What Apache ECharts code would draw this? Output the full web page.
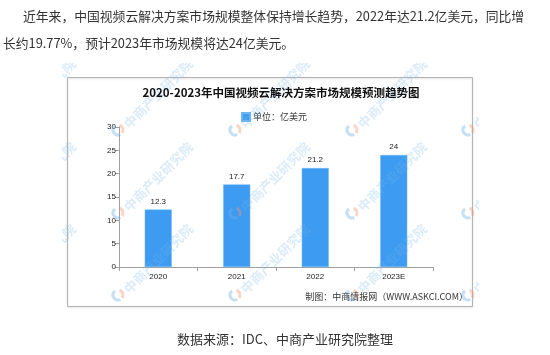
<!DOCTYPE html>
<html>
<head>
<meta charset="utf-8">
<script src="https://cdn.jsdelivr.net/npm/echarts@6/dist/echarts.min.js"></script>
<style>html,body{margin:0;padding:0;background:#fff}#c{width:550px;height:355px}</style>
</head>
<body>
<div id="c"></div>
<script>
var categories = ['2020', '2021', '2022', '2023E'];
var values = [12.3, 17.7, 21.2, 24];
var yTicks = [0, 5, 10, 15, 20, 25, 30];
var titleText = '2020-2023年中国视频云解决方案市场规模预测趋势图';
var legendName = '单位：亿美元';
var paraLine1 = '近年来，中国视频云解决方案市场规模整体保持增长趋势，2022年达21.2亿美元，同比增';
var paraLine2 = '长约19.77%，预计2023年市场规模将达24亿美元。';
var sourceText = '数据来源：IDC、中商产业研究院整理';
var creditText = '制图：中商情报网（WWW.ASKCI.COM）';
var wmText = '中商产业研究院';

var font = '"Noto Sans CJK SC", "Liberation Sans", sans-serif';
var numFont = '"Liberation Sans", "DejaVu Sans", sans-serif';

var chart = echarts.init(document.getElementById('c'), null, {renderer: 'canvas'});

var graphics = [];
// frame
graphics.push({type: 'rect', z: 1, shape: {x: 67.5, y: 77.5, width: 405, height: 229}, style: {fill: 'none', stroke: '#b4b4b4', lineWidth: 1, shadowBlur: 2, shadowColor: 'rgba(0,0,0,0.15)', shadowOffsetY: 1}});
// watermarks
var cols = [1, 118, 235, 352, 468];
var rows = [130, 213, 295];
rows.forEach(function (ry) {
  cols.forEach(function (cx) {
    graphics.push({type: 'arc', z: 100, silent: true, shape: {cx: cx, cy: ry, r: 5, startAngle: Math.PI * 0.35, endAngle: Math.PI * 1.3}, style: {stroke: 'rgba(110,175,230,0.4)', lineWidth: 3, fill: 'none'}});
    graphics.push({type: 'arc', z: 100, silent: true, shape: {cx: cx, cy: ry, r: 5, startAngle: Math.PI * 1.6, endAngle: Math.PI * 2.2}, style: {stroke: 'rgba(240,150,110,0.4)', lineWidth: 3, fill: 'none'}});
    graphics.push({type: 'text', z: 100, silent: true, x: cx + 8, y: ry - 4, rotation: Math.PI / 4,
      style: {text: wmText, font: 'bold 13px ' + font, fill: 'rgba(120,180,232,0.27)', textAlign: 'left', textVerticalAlign: 'middle'}});
  });
});
// white covers outside image
graphics.push({type: 'rect', z: 101, silent: true, shape: {x: 0, y: 0, width: 550, height: 63}, style: {fill: '#fff'}});
graphics.push({type: 'rect', z: 101, silent: true, shape: {x: 0, y: 312, width: 550, height: 43}, style: {fill: '#fff'}});
graphics.push({type: 'rect', z: 101, silent: true, shape: {x: 0, y: 0, width: 62, height: 355}, style: {fill: '#fff'}});
graphics.push({type: 'rect', z: 101, silent: true, shape: {x: 479, y: 0, width: 71, height: 355}, style: {fill: '#fff'}});
// texts
graphics.push({type: 'text', z: 102, x: 23, y: 16, style: {text: paraLine1, font: '12.8px ' + font, fill: '#333', textVerticalAlign: 'middle'}});
graphics.push({type: 'text', z: 102, x: 3, y: 43, style: {text: paraLine2, font: '12.8px ' + font, fill: '#333', textVerticalAlign: 'middle'}});
graphics.push({type: 'text', z: 102, x: 285, y: 339, style: {text: sourceText, font: '13px ' + font, fill: '#333', textAlign: 'center', textVerticalAlign: 'middle'}});
graphics.push({type: 'text', z: 102, x: 281, y: 93, style: {text: titleText, font: 'bold 11.5px ' + font, fill: '#111', textAlign: 'center', textVerticalAlign: 'middle'}});
graphics.push({type: 'text', z: 102, x: 468, y: 297, style: {text: creditText, font: '9px ' + font, fill: '#333', textAlign: 'right', textVerticalAlign: 'middle'}});

chart.setOption({
  animation: false,
  backgroundColor: '#fff',
  grid: {left: 119, right: 117, top: 127, bottom: 88, containLabel: false},
  legend: {
    data: [legendName], left: 236, top: 107, itemWidth: 8, itemHeight: 8, itemGap: 4,
    icon: 'rect', textStyle: {fontSize: 9, fontFamily: font, color: '#333', padding: [0, 0, 0, -2]}
  },
  xAxis: {
    type: 'category', data: categories, boundaryGap: true,
    axisLine: {lineStyle: {color: '#a0a0a0', width: 1}},
    axisTick: {show: true, alignWithLabel: false, length: 4, lineStyle: {color: '#a0a0a0'}},
    axisLabel: {fontSize: 8, fontFamily: numFont, color: '#222', margin: 6}
  },
  yAxis: {
    type: 'value', min: yTicks[0], max: yTicks[yTicks.length - 1], interval: 5,
    axisLine: {show: true, lineStyle: {color: '#a0a0a0', width: 1}},
    axisTick: {show: true, length: 4, lineStyle: {color: '#a0a0a0'}},
    axisLabel: {fontSize: 8, fontFamily: numFont, color: '#222', margin: 3},
    splitLine: {show: false}
  },
  series: [{
    name: legendName, type: 'bar', data: values, barWidth: 27,
    itemStyle: {color: '#3d9cf1', borderColor: '#6cb6f5', borderWidth: 0.5},
    label: {show: true, position: 'top', distance: 4, fontSize: 8, fontFamily: numFont, color: '#222'}
  }],
  graphic: graphics
});
</script>
</body>
</html>
